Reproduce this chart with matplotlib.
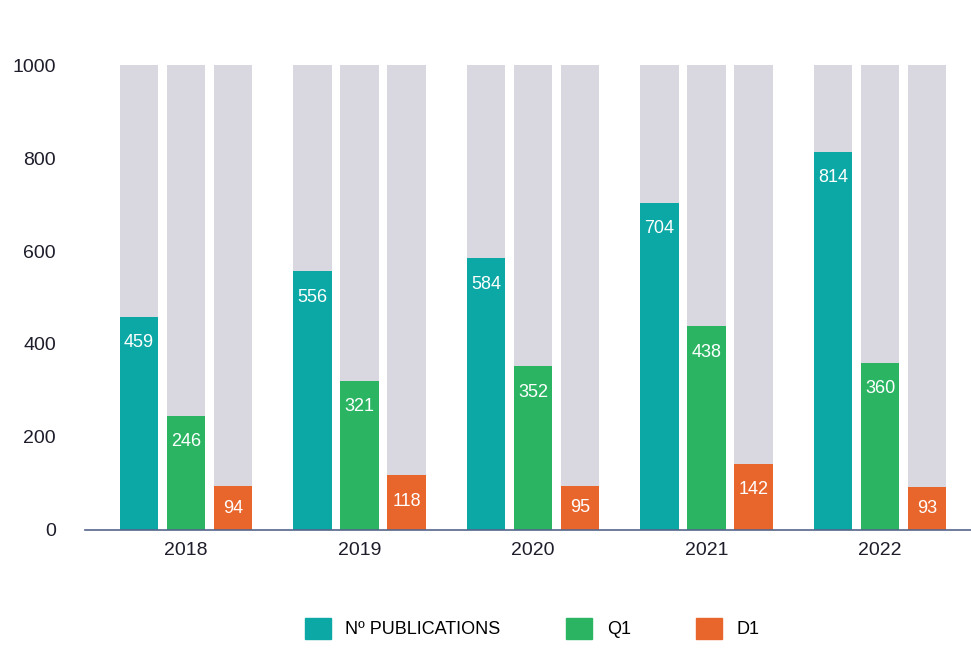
import numpy as np
import matplotlib
matplotlib.use("Agg")
import matplotlib.pyplot as plt
from matplotlib.patches import Patch

plt.rcParams['font.family'] = ['Liberation Sans', 'DejaVu Sans']

# Data
years = ["2018", "2019", "2020", "2021", "2022"]
publications = [459, 556, 584, 704, 814]
q1 = [246, 321, 352, 438, 360]
d1 = [94, 118, 95, 142, 93]
series_names = ["Nº PUBLICATIONS", "Q1", "D1"]

colors = ["#0ba8a5", "#2bb563", "#e8652b"]
bg_color = "#d9d8e1"

fig = plt.figure(figsize=(9.71, 6.49), dpi=100)
ax = fig.add_axes([0.0875, 0.1834, 0.9125, 0.7164])

x = np.arange(len(years))
width = 0.22
step = 0.271
ymax = 1000

for i, (vals, col) in enumerate(zip([publications, q1, d1], colors)):
    xs = x + (i - 1) * step
    # grey background columns
    ax.bar(xs, [ymax] * len(xs), width=width, color=bg_color, zorder=1)
    ax.bar(xs, vals, width=width, color=col, zorder=2)
    for xi, v in zip(xs, vals):
        ypos = max(v - 56, v / 2)
        ax.text(xi, ypos, str(v), ha="center", va="center",
                color="white", fontsize=13, zorder=3)

ax.set_xlim(-0.582, 4.524)
ax.set_ylim(0, ymax)
ax.set_yticks([0, 200, 400, 600, 800, 1000])
ax.set_xticks(x)
ax.set_xticklabels(years)
ax.tick_params(axis="both", length=0, labelsize=14, colors="#1d1d2b")
ax.tick_params(axis="y", pad=21)
ax.tick_params(axis="x", pad=9)

for s in ["top", "right", "left"]:
    ax.spines[s].set_visible(False)
ax.spines["bottom"].set_color("#55658a")
ax.spines["bottom"].set_linewidth(1.2)
ax.spines["bottom"].set_zorder(4)

handles = [Patch(color=c) for c in colors]
fig.legend(handles, series_names, loc="center", bbox_to_anchor=(0.548, 0.032),
           ncol=3, frameon=False, fontsize=13, handlelength=1.44,
           handleheight=1.44, handletextpad=0.83, columnspacing=3.6)

fig.savefig("out.png", dpi=100)
